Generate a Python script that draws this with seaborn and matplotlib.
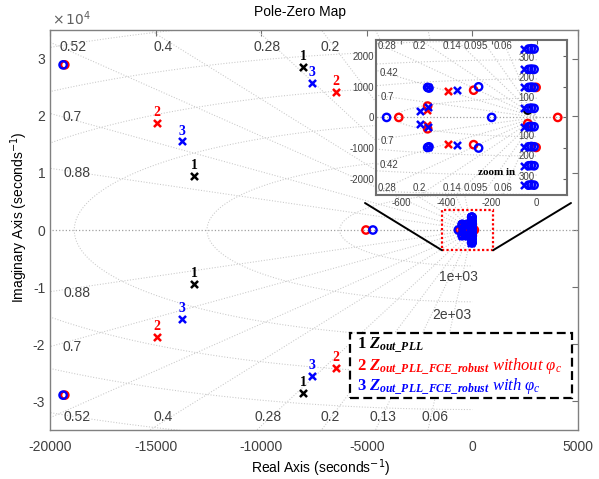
import numpy as np
import pandas as pd
import matplotlib
matplotlib.use("Agg")
import matplotlib.pyplot as plt
import seaborn as sns
from matplotlib.patches import Rectangle, ConnectionPatch

sns.set_theme(style="white")
plt.rcParams["font.family"] = ["Liberation Sans", "DejaVu Sans"]
plt.rcParams["axes.unicode_minus"] = False
plt.rcParams["mathtext.fontset"] = "custom"
plt.rcParams["mathtext.rm"] = "Liberation Serif"
plt.rcParams["mathtext.it"] = "Liberation Serif:italic"
plt.rcParams["mathtext.bf"] = "Liberation Serif:bold"
plt.rcParams["mathtext.bfit"] = "Liberation Serif:italic:bold"

# ---------------- data ----------------
# series 1 : Z_out_PLL (black)
s1_far_pole_re = [-8020, -8020, -13180, -13180]
s1_far_pole_im = [28500, -28500, 9500, -9500]
s1_near_pole_re = []
s1_near_pole_im = []
s1_zero_re = [-40]
s1_zero_im = [240]

# series 2 : Z_out_PLL_FCE_robust without phi_c (red)
s2_far_pole_re = [-14930, -14930, -6460, -6460]
s2_far_pole_im = [18700, -18700, 24100, -24200]
s2_near_pole_re = [-392, -392, -488, -488]
s2_near_pole_im = [870, -870, 240, -240]
s2_zero_re = [-19300, -19300, -5040, -612, -484, -484, -280, -280, 93, -3, -3, -40]
s2_zero_im = [28900, -28900, 0, 0, 371, -371, 890, -890, 0, 981, -981, -200]

# series 3 : Z_out_PLL_FCE_robust with phi_c (blue)
s3_far_pole_re = [-7590, -7590, -13750, -13750]
s3_far_pole_im = [25700, -25600, 15500, -15500]
s3_near_pole_re = [-355, -355, -516, -516, -484, -484, -484, -484,
                   -58, -58, -58, -58, -58, -58, -58, -58]
s3_near_pole_im = [894, -894, 220, -220, 327, -327, 981, -981,
                   2235, 1570, 981, 294, -305, -959, -1580, -2213]
s3_zero_re = [-19380, -19380, -4710, -666, -484, -484, -478, -478, -258, -258, -200,
              -36, -36, -36, -36, -36, -36, -36, -36,
              -24, -24, -24, -24, -24, -24, -24, -24,
              -12, -12, -12, -12, -12, -12, -12, -12]
s3_zero_im = [28900, -28900, 0, 0, 981, -981, 960, -960, 1000, -1000, 0,
              2235, 1570, 981, 294, -305, -959, -1580, -2213,
              2245, 1580, 991, 304, -295, -949, -1570, -2203,
              2235, 1570, 981, 294, -305, -959, -1580, -2213]

series_colors = ["black", "#ff0000", "#0000ff"]
series_tags = ["1", "2", "3"]

# grid settings (sgrid)
main_zetas = [0.06, 0.13, 0.2, 0.28, 0.4, 0.52, 0.7, 0.88]
main_wn = [6283, 12566, 18850, 25133, 31416, 37699]
inset_zetas = [0.06, 0.095, 0.14, 0.2, 0.28, 0.42, 0.7]
inset_wn = [628, 1257, 1885, 2513]

main_zeta_labels = ["0.52", "0.4", "0.28", "0.2", "0.7", "0.88", "0.88", "0.7",
                    "0.52", "0.4", "0.28", "0.2", "0.13", "0.06"]
main_zeta_lx = [-18900, -14650, -9720, -6740, -18950, -18720, -18720, -18950,
                -18720, -14650, -9680, -6740, -4230, -1770]
main_zeta_ly = [32000, 32000, 32000, 32000, 19800, 10000, -11000, -20500,
                -32700, -32700, -32700, -32700, -32700, -32700]
main_wn_labels = ["1e+03", "2e+03"]
main_wn_lx = [-680, -960]
main_wn_ly = [-8300, -14800]

inset_zeta_labels = ["0.28", "0.2", "0.14", "0.095", "0.06",
                     "0.42", "0.7", "0.7", "0.42",
                     "0.28", "0.2", "0.14", "0.095", "0.06"]
inset_zeta_lx = [-663, -521, -375, -269, -151, -657, -661, -661, -657,
                 -663, -521, -375, -269, -151]
inset_zeta_ly = [2330, 2330, 2330, 2330, 2330, 1458, 673, -765, -1559,
                 -2320, -2320, -2320, -2320, -2320]
inset_wn_labels = ["300", "200", "100", "100", "200", "300"]
inset_wn_lx = [-44, -44, -44, -44, -44, -44]
inset_wn_ly = [1929, 1275, 621, -610, -1264, -1940]

W, H = 599, 479
def fx(px):
    return px / W
def fy(py):
    return 1 - py / H

GRID_C = "#c8c8c8"
LAB_C = "#404040"

fig = plt.figure(figsize=(W / 100, H / 100), dpi=100)
fig.patch.set_facecolor("white")
ax = fig.add_axes([fx(50), fy(430), fx(578) - fx(50), fy(30) - fy(430)])
axi = fig.add_axes([fx(376), fy(195), fx(567) - fx(376), fy(40) - fy(195)], zorder=5)


def draw_sgrid(a, zetas, wns, R, xright, lw):
    for z in zetas:
        wd = np.sqrt(1 - z ** 2)
        a.plot([0, -z * R], [0, wd * R], ls=":", color=GRID_C, lw=lw, zorder=1)
        a.plot([0, -z * R], [0, -wd * R], ls=":", color=GRID_C, lw=lw, zorder=1)
    a.plot([-R, xright], [0, 0], ls=":", color="#a0a0a0", lw=0.9, zorder=1)
    th = np.linspace(np.pi / 2, 3 * np.pi / 2, 300)
    for w in wns:
        a.plot(w * np.cos(th), w * np.sin(th), ls=":", color=GRID_C, lw=lw, zorder=1)


def scatter(a, re, im, color, marker, z):
    if len(re) == 0:
        return
    df = pd.DataFrame({"re": re, "im": im})
    if marker == "o":
        sns.scatterplot(data=df, x="re", y="im", marker="o", s=28, color=color,
                        facecolor="none", edgecolor=color, linewidth=1.7,
                        ax=a, zorder=z, legend=False)
    else:
        sns.scatterplot(data=df, x="re", y="im", marker="x", s=26, color=color,
                        linewidth=1.8, ax=a, zorder=z, legend=False)


all_series = [
    (s1_far_pole_re, s1_far_pole_im, s1_near_pole_re, s1_near_pole_im, s1_zero_re, s1_zero_im),
    (s2_far_pole_re, s2_far_pole_im, s2_near_pole_re, s2_near_pole_im, s2_zero_re, s2_zero_im),
    (s3_far_pole_re, s3_far_pole_im, s3_near_pole_re, s3_near_pole_im, s3_zero_re, s3_zero_im),
]

# ---------------- main axes ----------------
draw_sgrid(ax, main_zetas, main_wn, 60000, 5000, 0.75)
for k, (fpr, fpi, npr, npi, zr, zi) in enumerate(all_series):
    c = series_colors[k]
    scatter(ax, fpr + npr, fpi + npi, c, "x", 3 + k * 0.1)
    scatter(ax, zr, zi, c, "o", 3 + k * 0.1)
    for xr, yi in zip(fpr, fpi):
        ax.annotate(series_tags[k], (xr, yi), xytext=(0, 7.5), textcoords="offset points",
                    ha="center", va="center", fontsize=10, fontweight="bold",
                    family="Liberation Serif", color=c, zorder=4)

for t, x, y in zip(main_zeta_labels, main_zeta_lx, main_zeta_ly):
    ax.text(x, y, t, ha="center", va="center", fontsize=10, color=LAB_C, zorder=2)
for t, x, y in zip(main_wn_labels, main_wn_lx, main_wn_ly):
    ax.text(x, y, t, ha="center", va="center", fontsize=10, color=LAB_C, zorder=2)

ax.add_patch(Rectangle((-1440, -3550), 2415, 7100, fill=False, ec="#ff0000",
                       ls=(0, (1, 1)), lw=1.6, zorder=6))

ax.set_xlim(-20000, 5000)
ax.set_ylim(-35000, 35000)
ax.set_xticks([-20000, -15000, -10000, -5000, 0, 5000])
ax.set_xticklabels(["-20000", "-15000", "-10000", "-5000", "0", "5000"])
ax.set_yticks([-30000, -20000, -10000, 0, 10000, 20000, 30000])
ax.set_yticklabels(["-3", "-2", "-1", "0", "1", "2", "3"])
ax.set_xlabel("")
ax.set_ylabel("")
ax.tick_params(axis="both", direction="in", length=4, width=0.8, color="#707070",
               labelcolor=LAB_C, labelsize=10, top=True, right=True)
ax.tick_params(axis="x", pad=7)
ax.tick_params(axis="y", pad=3.5)
for sp in ax.spines.values():
    sp.set_color("#808080")
    sp.set_linewidth(1.0)

# ---------------- inset ----------------
axi.set_facecolor("white")
draw_sgrid(axi, inset_zetas, inset_wn, 6000, 200, 0.8)
for t, x, y in zip(inset_zeta_labels, inset_zeta_lx, inset_zeta_ly):
    axi.text(x, y, t, ha="center", va="center", fontsize=7, color=LAB_C, zorder=2)
for t, x, y in zip(inset_wn_labels, inset_wn_lx, inset_wn_ly):
    axi.text(x, y, t, ha="center", va="center", fontsize=7, color=LAB_C, zorder=2)
for k, (fpr, fpi, npr, npi, zr, zi) in enumerate(all_series):
    c = series_colors[k]
    scatter(axi, fpr + npr, fpi + npi, c, "x", 3 + k * 0.1)
    scatter(axi, zr, zi, c, "o", 3 + k * 0.1)
axi.text(-180, -1790, "zoom in", ha="center", va="center", fontsize=8,
         fontweight="bold", family="Liberation Serif", color="black", zorder=6)
axi.set_xlim(-713, 134)
axi.set_ylim(-2535, 2530)
axi.set_xticks([-600, -400, -200, 0])
axi.set_xticklabels(["-600", "-400", "-200", "0"])
axi.set_yticks([-2000, -1000, 0, 1000, 2000])
axi.set_yticklabels(["-2000", "-1000", "0", "1000", "2000"])
axi.set_xlabel("")
axi.set_ylabel("")
axi.tick_params(axis="both", direction="in", length=3, width=0.8, color="#606060",
                labelcolor=LAB_C, labelsize=7, top=True, right=True)
axi.tick_params(axis="x", pad=2)
axi.tick_params(axis="y", pad=1.5)
for sp in axi.spines.values():
    sp.set_color("#6e6e6e")
    sp.set_linewidth(1.5)

# connection lines from zoom box to inset
for (xa, ya), (pxb, pyb) in [((-1440, -3550), (365, 203)), ((975, -3550), (571, 203))]:
    con = ConnectionPatch(xyA=(xa, ya), coordsA=ax.transData,
                          xyB=(fx(pxb), fy(pyb)), coordsB=fig.transFigure,
                          color="black", lw=1.4, zorder=2)
    fig.add_artist(con)

# ---------------- legend box ----------------
fig.add_artist(Rectangle((fx(350), fy(398)), fx(572) - fx(350), fy(333) - fy(398),
                         transform=fig.transFigure, facecolor="white", edgecolor="black",
                         ls=(0, (4, 2)), lw=1.6, zorder=3))
leg_lines = [
    r"$\mathbf{1}\ \mathbfit{Z}_{\mathbfit{out\_PLL}}$",
    r"$\mathbf{2}\ \mathbfit{Z}_{\mathbfit{out\_PLL\_FCE\_robust}}\ \mathit{without}\ \varphi_{c}$",
    r"$\mathbf{3}\ \mathbfit{Z}_{\mathbfit{out\_PLL\_FCE\_robust}}\ \mathit{with}\ \varphi_{c}$",
]
leg_base = [349, 371, 391]
for k, (s, b) in enumerate(zip(leg_lines, leg_base)):
    fig.text(fx(357), fy(b), s, ha="left", va="baseline", fontsize=12,
             color=series_colors[k], zorder=4)

# ---------------- titles / labels ----------------
fig.text(fx(300), fy(12), "Pole-Zero Map", ha="center", va="center", fontsize=10,
         color="black")
fig.text(fx(52), fy(19), r"$\times\,10^{4}$", ha="left", va="center", fontsize=10,
         color="#606060", math_fontfamily="dejavusans")
fig.text(fx(19), fy(217), r"Imaginary Axis (seconds$^{-1}$)", rotation=90,
         ha="center", va="center", fontsize=10, color="black", math_fontfamily="dejavusans")
fig.text(fx(321), fy(468), r"Real Axis (seconds$^{-1}$)", ha="center", va="center",
         fontsize=10, color="black", math_fontfamily="dejavusans")

fig.savefig("out.png", dpi=100)
